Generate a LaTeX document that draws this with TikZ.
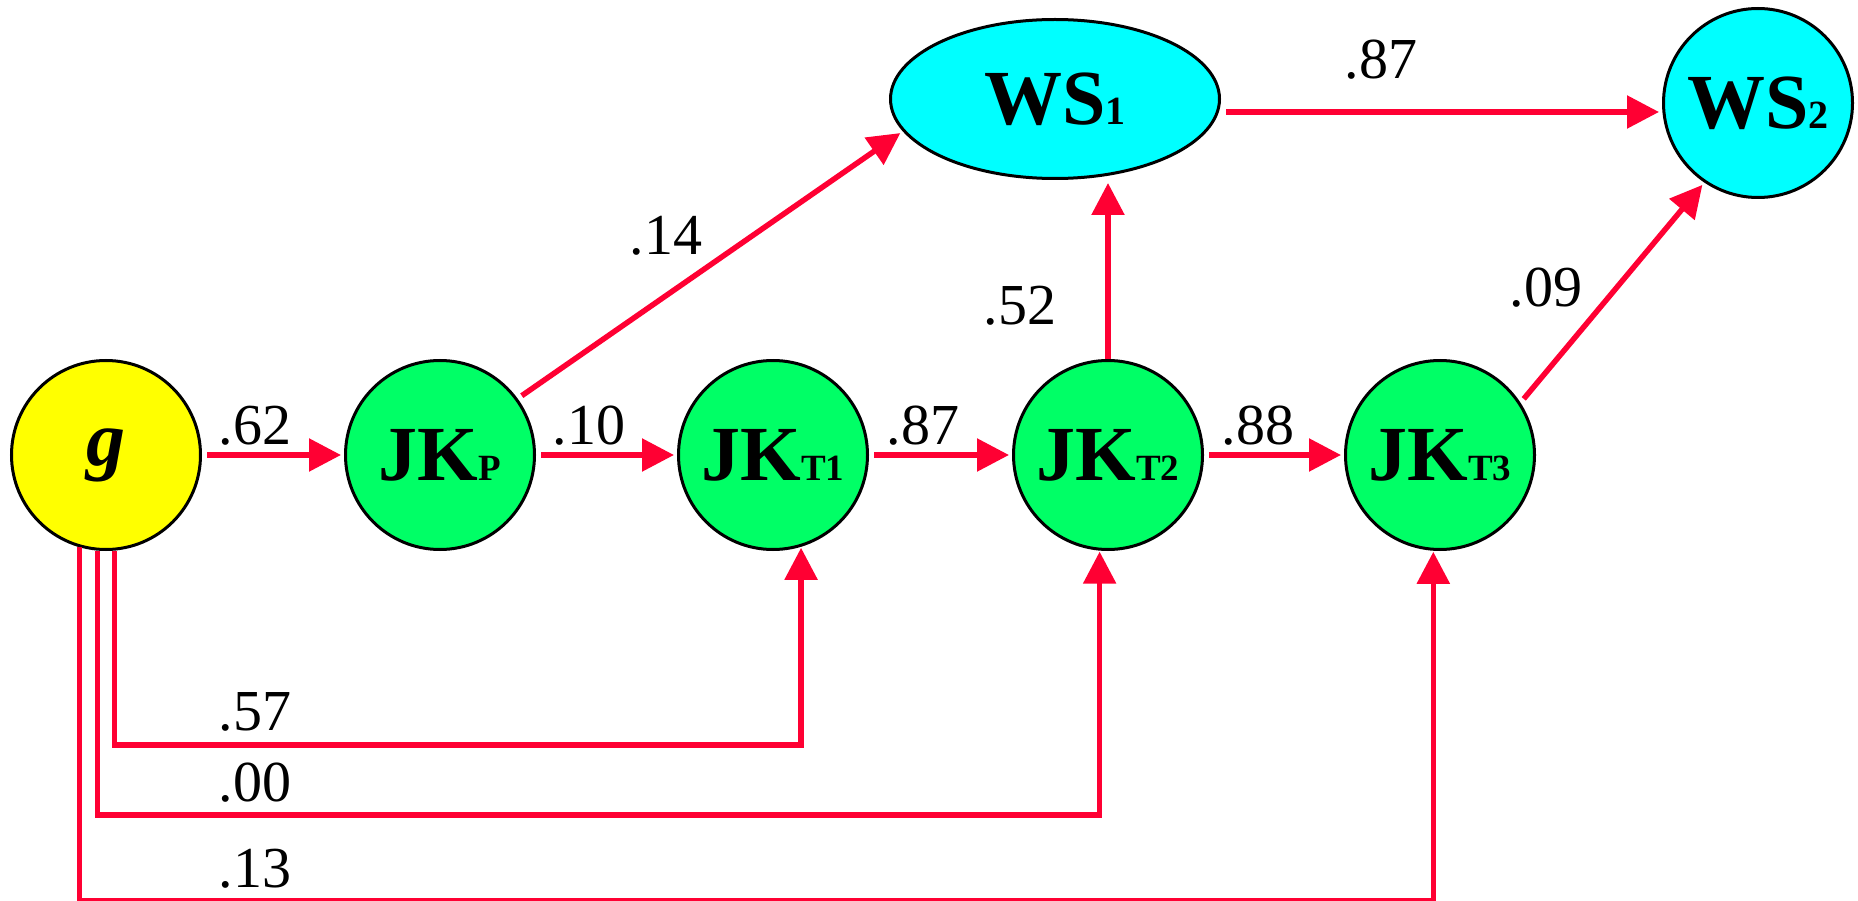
\documentclass[tikz,border=0pt]{standalone}
\usepackage{fontspec}
\setmainfont{Liberation Serif}
\usetikzlibrary{arrows.meta,shapes.geometric,calc}
\definecolor{gyel}{HTML}{FFFF00}
\definecolor{jkgreen}{HTML}{00FF66}
\definecolor{wscyan}{HTML}{00FFFF}
\definecolor{linkred}{HTML}{FF0033}
\newcommand{\mainlet}[1]{{\fontsize{78}{80}\selectfont\bfseries #1}}
\newcommand{\sublet}[1]{{\fontsize{37}{40}\selectfont\bfseries #1}}
\begin{document}
\begin{tikzpicture}[x=1pt,y=-1pt,
  nd/.style={circle,draw=black,line width=3pt,minimum size=189pt,inner sep=0pt},
  conn/.style={draw=linkred,line width=5.5pt,-{Triangle[length=32pt,width=32pt]},shorten <=5pt,shorten >=3pt},
  lbl/.style={font=\fontsize{58}{60}\selectfont,anchor=base,inner sep=0pt}]
\useasboundingbox (0,0) rectangle (1858,901);
\clip (0,0) rectangle (1858,901);

% nodes
\node[nd,fill=gyel] (g) at (106,455) {{\fontsize{78}{80}\selectfont\bfseries\itshape g}};
\node[nd,fill=jkgreen] (JKP) at (440,455) {\mainlet{JK}\sublet{P}};
\node[nd,fill=jkgreen] (T1) at (773,455) {\mainlet{JK}\sublet{T1}};
\node[nd,fill=jkgreen] (T2) at (1108,455) {\mainlet{JK}\sublet{T2}};
\node[nd,fill=jkgreen] (T3) at (1440,455) {\mainlet{JK}\sublet{T3}};
\node[ellipse,draw=black,line width=3pt,fill=wscyan,minimum width=329pt,minimum height=159pt,inner sep=0pt] (WS1) at (1055,99) {\mainlet{WS}{\fontsize{40}{42}\selectfont\bfseries 1}};
\node[nd,fill=wscyan] (WS2) at (1758,103) {\mainlet{WS}{\fontsize{40}{42}\selectfont\bfseries 2}};

% helper coordinates for the lower routes
\coordinate (y57) at (0,745);
\coordinate (y00) at (0,815);
\coordinate (y13) at (0,900.5);

% connectors
\draw[conn] (g) -- (JKP);
\draw[conn] (JKP) -- (T1);
\draw[conn] (T1) -- (T2);
\draw[conn] (T2) -- (T3);
\draw[conn] (JKP.36) -- (WS1.192);
\draw[conn,shorten <=0pt] (T2.north) -- (T2.north |- WS1.south);
\draw[conn] (T3.33) -- (WS2.236);
\draw[conn] ([yshift=-13pt]WS1.east) -- ([yshift=-13pt]WS1.east -| WS2.west);
\draw[conn,shorten <=0pt,shorten >=1pt] (g.275) |- (T1.287 |- y57) -- (T1.287);
\draw[conn,shorten <=0pt,shorten >=1pt] (g.265) |- (T2.265 |- y00) -- (T2.265);
\draw[conn,shorten <=0pt,shorten >=1pt] (g.254) |- (T3.266 |- y13) -- (T3.266);

% labels
\node[lbl] (l62) at (255,444) {.62};
\node[lbl] (l10) at (589,444) {.10};
\node[lbl] (l87a) at (923,444) {.87};
\node[lbl] (l88) at (1258,444) {.88};
\node[lbl] (l14) at (666,255) {.14};
\node[lbl] (l52) at (1020,325) {.52};
\node[lbl] (l09) at (1546,307) {.09};
\node[lbl] (l87b) at (1381,79) {.87};
\node[lbl] (l57) at (255,730) {.57};
\node[lbl] (l00) at (255,801) {.00};
\node[lbl] (l13) at (255,887) {.13};
\end{tikzpicture}
\end{document}
